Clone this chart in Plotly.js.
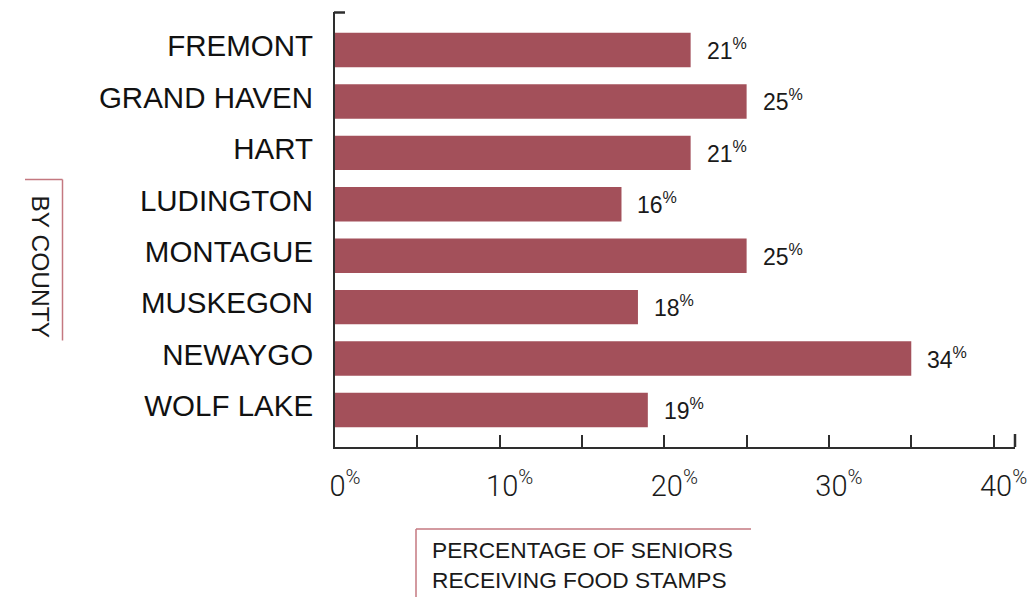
<!DOCTYPE html>
<html>
<head>
<meta charset="utf-8">
<script src="https://cdn.plot.ly/plotly-3.0.1.min.js"></script>
<style>
  html, body { margin: 0; padding: 0; background: #fff; }
  #chart { width: 1029px; height: 597px; }
</style>
</head>
<body>
<div id="chart"></div>
<script>
// ---- data ----
const counties = ["FREMONT", "GRAND HAVEN", "HART", "LUDINGTON", "MONTAGUE", "MUSKEGON", "NEWAYGO", "WOLF LAKE"];
// bar lengths as drawn against the axis (percent)
const barValues = [21.6, 25.0, 21.6, 17.4, 25.0, 18.4, 35.0, 19.0];
// printed value labels (percent)
const labelValues = [21, 25, 21, 16, 25, 18, 34, 19];
const xMajorTicks = [0, 10, 20, 30, 40];
const xMajorLabels = ["0", "10", "20", "30", "40"];
const xMinorTicks = [5, 15, 25, 35];
const xTitle = "PERCENTAGE OF SENIORS<br>RECEIVING FOOD STAMPS";
const yTitle = "BY COUNTY";

// ---- layout helpers (pixel -> paper) ----
const FIG_W = 1029, FIG_H = 597;
const M = { l: 335, r: 14, t: 12, b: 150 };
const PW = FIG_W - M.l - M.r, PH = FIG_H - M.t - M.b;
const px = x => (x - M.l) / PW;
const py = y => 1 - (y - M.t) / PH;

const barColor = "#a3505a";
const accent = "#c47880";
const axisColor = "#2e2e2e";

const trace = {
  type: "bar",
  orientation: "h",
  y: counties,
  x: barValues,
  marker: { color: barColor },
  hoverinfo: "none"
};

const valueAnnotations = counties.map((c, i) => ({
  x: barValues[i], y: c, xref: "x", yref: "y",
  xanchor: "left", yanchor: "middle", xshift: 14, yshift: 1,
  text: labelValues[i] + "<sup>%</sup>",
  showarrow: false,
  font: { family: "Liberation Sans, Arial, sans-serif", size: 23, color: "#1a1a1a" }
}));

const layout = {
  width: FIG_W, height: FIG_H,
  margin: M,
  paper_bgcolor: "#fff", plot_bgcolor: "#fff",
  showlegend: false,
  bargap: 0.33,
  xaxis: {
    range: [0, 41.3],
    tickmode: "array",
    tickvals: xMajorTicks,
    ticktext: xMajorLabels.map(t => t + "<sup>%</sup>"),
    ticks: "inside", ticklen: 12, tickwidth: 2, tickcolor: axisColor,
    minor: { tickmode: "array", tickvals: xMinorTicks, ticks: "inside", ticklen: 12, tickwidth: 2, tickcolor: axisColor, showgrid: false },
    showline: true, linecolor: axisColor, linewidth: 2,
    showgrid: false, zeroline: false,
    ticklabelshift: 10,
    ticklabelstandoff: 12,
    tickfont: { family: "Roboto, Liberation Sans, sans-serif", weight: 300, size: 29, color: "#1a1a1a" },
    fixedrange: true
  },
  yaxis: {
    type: "category",
    range: [7.72, -0.74],
    showline: true, linecolor: axisColor, linewidth: 2,
    showgrid: false, zeroline: false,
    ticks: "",
    ticklabelstandoff: 14,
    ticklabelshift: 4,
    tickfont: { family: "Liberation Sans, Arial, sans-serif", size: 29.5, color: "#111" },
    fixedrange: true
  },
  shapes: [
    // small cap at top of y axis
    { type: "line", xref: "paper", yref: "paper", x0: px(334), x1: px(345), y0: py(12.5), y1: py(12.5), line: { color: axisColor, width: 2.5 } },
    // end tick of x axis
    { type: "line", xref: "paper", yref: "paper", x0: px(1015), x1: px(1015), y0: py(447), y1: py(434), line: { color: axisColor, width: 2.5 } },
    // x title frame
    { type: "line", xref: "paper", yref: "paper", x0: px(416), x1: px(751), y0: py(529), y1: py(529), line: { color: accent, width: 1.5 } },
    { type: "line", xref: "paper", yref: "paper", x0: px(416), x1: px(416), y0: py(529), y1: py(600), line: { color: accent, width: 1.5 } },
    // y title frame
    { type: "line", xref: "paper", yref: "paper", x0: px(25), x1: px(62.5), y0: py(179.5), y1: py(179.5), line: { color: accent, width: 1.5 } },
    { type: "line", xref: "paper", yref: "paper", x0: px(62.5), x1: px(62.5), y0: py(179.5), y1: py(340.5), line: { color: accent, width: 1.5 } }
  ],
  annotations: valueAnnotations.concat([
    {
      xref: "paper", yref: "paper", x: px(430), y: py(535),
      xanchor: "left", yanchor: "top", align: "left",
      text: xTitle, showarrow: false,
      font: { family: "Liberation Sans, Arial, sans-serif", size: 22.7, color: "#1a1a1a" }
    },
    {
      xref: "paper", yref: "paper", x: px(40), y: py(266.5),
      xanchor: "center", yanchor: "middle", textangle: 90,
      text: yTitle, showarrow: false,
      font: { family: "Liberation Sans, Arial, sans-serif", size: 24.5, color: "#1a1a1a" }
    }
  ])
};

Plotly.newPlot("chart", [trace], layout, { displayModeBar: false, staticPlot: true });
</script>
</body>
</html>
